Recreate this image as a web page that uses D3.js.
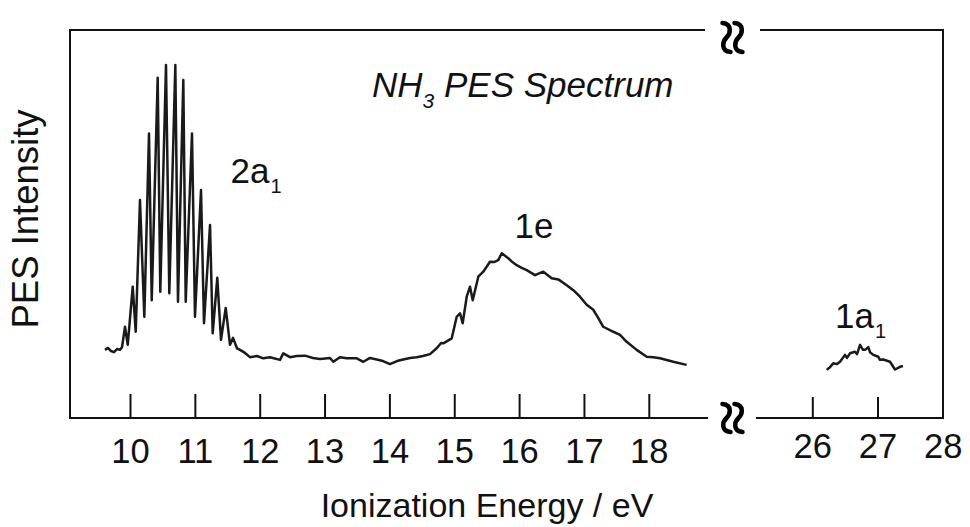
<!DOCTYPE html>
<html><head><meta charset="utf-8">
<script src="https://cdn.jsdelivr.net/npm/d3@7"></script>
<style>body{margin:0;background:#fff}svg{display:block}text{font-family:"Liberation Sans",Arial,sans-serif;fill:#111}</style>
</head><body><svg id="c" width="970" height="527"></svg>
<script>
// ---- data (ionization energy eV, intensity arb. units) ----
const energiesLow = [9.614,9.661,9.707,9.753,9.800,9.846,9.877,9.923,9.965,10.042,10.088,10.154,10.221,10.293,10.335,10.427,10.467,10.555,10.606,10.699,10.740,10.822,10.859,10.956,11.002,11.095,11.141,11.234,11.275,11.346,11.403,11.476,11.542,11.588,11.650,11.696,
 11.773,11.850,11.958,12.055,12.159,12.313,12.364,12.467,12.571,12.699,12.822,12.930,13.084,13.135,13.238,13.342,13.496,13.598,13.701,13.804,13.901,14.009,14.117,14.214,14.317,14.421,14.518,14.626,14.729,14.797,14.831,14.961,
 15.038,15.089,15.130,15.192,15.243,15.285,15.371,15.448,15.551,15.613,15.679,15.732,15.833,15.897,15.963,16.040,16.117,16.245,16.373,16.503,16.605,16.734,16.836,16.939,17.042,17.144,17.220,17.298,17.453,17.556,17.659,17.813,17.968,18.070,18.173,18.378,18.584];
const intensityLow = [17.7,18.2,17.4,17.1,17.9,17.7,18.4,23.7,19.0,34.1,22.4,56.6,26.3,73.9,30.6,88.4,32.8,91.7,32.4,91.7,30.2,87.8,30.2,73.9,26.3,59.2,24.6,50.1,22.0,36.4,20.3,28.6,19.0,20.8,18.1,17.7,
 16.9,15.8,16.1,15.5,15.8,15.1,16.8,15.8,16.1,16.2,15.6,15.3,15.6,14.6,15.8,15.5,15.5,14.6,15.6,15.2,14.8,14.0,14.8,15.2,15.6,15.8,16.1,16.6,18.1,19.5,19.4,20.7,
 26.3,27.2,24.6,31.5,34.1,30.6,36.7,38.0,40.6,40.5,41.0,42.8,41.5,40.5,39.7,39.0,38.4,37.1,38.0,36.3,36.0,34.5,33.2,31.5,29.4,28.1,26.0,23.7,22.4,21.6,19.8,17.7,15.9,15.8,15.5,14.6,13.8];
const energiesHigh = [26.221,26.271,26.322,26.379,26.425,26.502,26.532,26.578,26.655,26.686,26.732,26.778,26.808,26.859,26.885,26.936,27.012,27.038,27.089,27.192,27.268,27.345,27.391];
const intensityHigh = [12.5,13.2,14.2,14.0,14.6,16.4,15.6,16.8,17.2,16.6,19.0,17.7,17.7,18.4,17.1,16.4,15.9,15.1,15.2,14.6,12.6,13.3,13.5];
const ticksLow = [10,11,12,13,14,15,16,17,18];
const ticksHigh = [26,27,28];
const bandLabels = [{main:"2a",sub:"1",e:11.55,i:61},{main:"1e",sub:"",e:15.93,i:46.8},{main:"1a",sub:"1",e:26.35,i:23.4}];

// ---- drawing ----
const svg = d3.select("#c");
const L=70, R=943, T=30, B=418;
const xLow = d3.scaleLinear().domain([10,18]).range([130,648.8]);
const xHigh = d3.scaleLinear().domain([26,28]).range([812.3,942.7]);
const y = d3.scaleLinear().domain([0,100]).range([B,33]);

// frame
const frame = svg.append("g").attr("stroke","#111").attr("stroke-width",2).attr("fill","none");
frame.append("path").attr("d",`M705,${T}H${L}V${B}H708`);
frame.append("path").attr("d",`M760,${T}H${R}V${B}H756`);

// break symbols
function brk(cx,t,b){
  const h=b-t;
  return `M${cx-4},${t+1} C${cx+6},${t+2} ${cx+4},${t+h*0.38} ${cx},${t+h*0.5} C${cx-4},${t+h*0.62} ${cx-6},${b-2} ${cx+4},${b-1}`;
}
const bg = svg.append("g").attr("stroke","#000").attr("stroke-width",4.5).attr("fill","none").attr("stroke-linecap","round");
[726.5,738.5].forEach(cx=>{
  bg.append("path").attr("d",brk(cx,22,53));
  bg.append("path").attr("d",brk(cx,403,433));
});

// axes
const axL = d3.axisBottom(xLow).tickValues(ticksLow).tickSizeInner(-24).tickSizeOuter(0).tickPadding(21).tickFormat(d3.format("d"));
const gL = svg.append("g").attr("transform",`translate(0,${B})`).call(axL);
const axH = d3.axisBottom(xHigh).tickValues(ticksHigh).tickSizeInner(-21).tickSizeOuter(0).tickPadding(16).tickFormat(d3.format("d"));
const gH = svg.append("g").attr("transform",`translate(0,${B})`).call(axH);
[gL,gH].forEach(g=>{
  g.select(".domain").remove();
  g.selectAll("line").attr("stroke","#111").attr("stroke-width",2);
  g.selectAll("text").attr("font-size",34.5).attr("fill","#111").style("font-family","Liberation Sans, Arial, sans-serif");
});
gH.selectAll(".tick").filter(d=>d===28).select("line").remove();

// curves
const lineLow = d3.line().x((d,i)=>xLow(energiesLow[i])).y((d,i)=>y(intensityLow[i]));
svg.append("path").datum(intensityLow).attr("d",lineLow).attr("fill","none").attr("stroke","#1a1a1a").attr("stroke-width",2.5).attr("stroke-linejoin","round");
const lineHigh = d3.line().x((d,i)=>xHigh(energiesHigh[i])).y((d,i)=>y(intensityHigh[i]));
svg.append("path").datum(intensityHigh).attr("d",lineHigh).attr("fill","none").attr("stroke","#1a1a1a").attr("stroke-width",2.5).attr("stroke-linejoin","round");

// band labels
bandLabels.forEach(b=>{
  const xs = b.e>20 ? xHigh : xLow;
  const t = svg.append("text").attr("x",xs(b.e)).attr("y",y(b.i)).attr("font-size",35);
  t.append("tspan").text(b.main);
  if(b.sub) t.append("tspan").attr("font-size",20).attr("dy",10).attr("dx",1).text(b.sub);
});

// title
const tt = svg.append("text").attr("x",372).attr("y",97).attr("font-size",35).attr("font-style","italic");
tt.append("tspan").text("NH");
tt.append("tspan").attr("font-size",21).attr("dy",11).text("3");
tt.append("tspan").attr("dy",-11).text(" PES Spectrum");

// axis titles
svg.append("text").attr("x",487).attr("y",517).attr("text-anchor","middle").attr("font-size",34).text("Ionization Energy / eV");
svg.append("text").attr("transform","translate(38,219) rotate(-90)").attr("text-anchor","middle").attr("font-size",36.5).text("PES Intensity");
</script></body></html>
